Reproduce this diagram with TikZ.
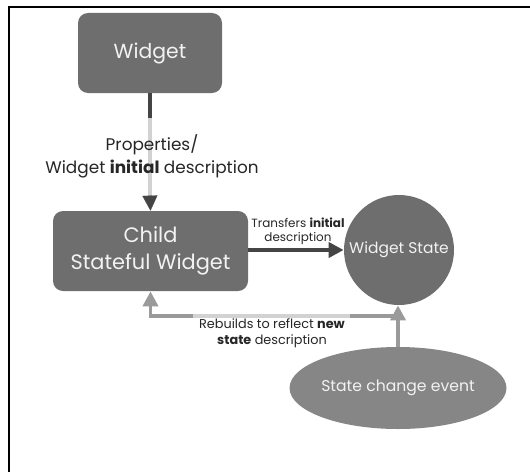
\documentclass[tikz,border=0pt]{standalone}
\usepackage{fontspec}
\setmainfont{Poppins}
\usetikzlibrary{arrows.meta, shapes.geometric}

\definecolor{boxgray}{HTML}{6E6E6E}
\definecolor{eventgray}{HTML}{868686}
\definecolor{darkline}{HTML}{444444}
\definecolor{midline}{HTML}{9A9A9A}
\definecolor{paleline}{HTML}{D2D2D2}

\begin{document}
\begin{tikzpicture}[
        box/.style = {draw = none, fill = boxgray, rounded corners = 0.2cm, text = white!95!black, align = center},
        label/.style = {text = black!85, align = center, inner sep = 0pt},
        tip/.style = {-{Triangle[length = 0.3cm, width = 0.3cm]}}
    ]
        \useasboundingbox (0, 0) rectangle (10.6, -9.44);
        \draw[line width = 1.1pt] (10.6, -0.14) -- (0.18, -0.14) -- (0.18, -9.44);

        \node[box, minimum width = 2.88cm, minimum height = 1.6cm, font = \fontsize{11.6}{14}\selectfont] (widget) at (3.0, -1.06) {Widget};
        \node[box, minimum width = 3.9cm, minimum height = 1.6cm, font = \fontsize{11.9}{15}\selectfont] (child) at (3.01, -5.02) {Child\\Stateful Widget};
        \node[circle, fill = boxgray, minimum size = 2.2cm, inner sep = 0pt, text = white!95!black, font = \fontsize{8.8}{10}\selectfont] (state) at (7.98, -5.0) {Widget State};
        \node[ellipse, fill = eventgray, minimum width = 3.52cm, minimum height = 1.64cm, inner sep = 0pt, text = white!95!black, font = \fontsize{8.9}{11}\selectfont] (event) at (7.96, -7.76) {State change event};

        % widget -> child
        \coordinate (fade) at (3.0, -2.36);
        \draw[darkline, line width = 2.8pt] (widget.south) -- (fade);
        \draw[paleline, line width = 2.4pt] (fade) -- (3.0, -3.95);
        \draw[darkline, line width = 0.1pt, tip] (3.0, -3.95) -- (child.north);
        \node[label, font = \fontsize{9.6}{13}\selectfont] (props) at (3.04, -3.12) {Properties/\\Widget \textbf{initial} description};

        % child -> state
        \draw[darkline, line width = 2.8pt, tip] (child.east |- state.west) -- (state.west);
        \node[label, font = \fontsize{6.8}{8}\selectfont] (transfers) at (5.96, -4.62) {Transfers \textbf{initial}\\description};

        % event -> state, and back to child
        \draw[midline, line width = 2.2pt, tip] (event.north) -- (event.north |- state.south);
        \coordinate (turn) at (7.96, -6.32);
        \draw[midline, line width = 2.2pt, tip] (turn) -| (child.south);
        \draw[paleline, line width = 2.2pt] (3.86, -6.32) -- (7.0, -6.32);
        \node[label, font = \fontsize{7.3}{9}\selectfont] (rebuilds) at (5.44, -6.66) {Rebuilds to reflect \textbf{new}\\\textbf{state} description};

    \end{tikzpicture}
\end{document}
